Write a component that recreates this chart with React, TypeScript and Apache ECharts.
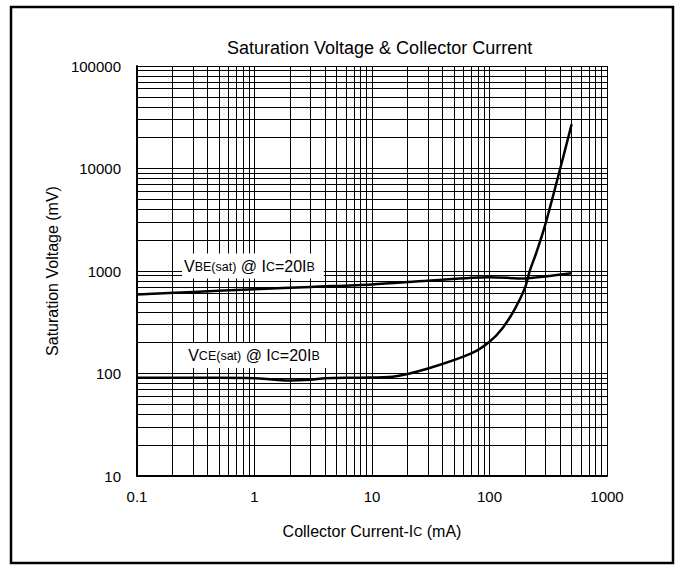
import React, { useEffect, useRef } from "react";
import * as echarts from "echarts";

const titleText = "Saturation Voltage & Collector Current";
const xTickLabels = ["0.1", "1", "10", "100", "1000"];
const yTickLabels = ["10", "100", "1000", "10000", "100000"];

const vbeCurrent = [0.1, 0.3, 1, 3, 10, 30, 100, 200, 300, 500];
const vbeVoltage = [590, 625, 663, 700, 740, 805, 870, 845, 885, 950];

const vceCurrent = [0.1, 0.5, 1, 1.5, 2, 3, 4, 8, 15, 30, 70, 100, 130, 165, 200, 220, 250, 300, 400, 500];
const vceVoltage = [91, 91, 90, 87, 85.5, 87, 90, 91, 93, 112, 157, 204, 280, 430, 680, 1000, 1500, 2900, 10000, 27000];

const xMinorGrid = [0.2, 0.3, 0.4, 0.5, 0.6, 0.7, 0.8, 0.9, 2, 3, 4, 5, 6, 7, 8, 9, 20, 30, 40, 50, 60, 70, 80, 90, 200, 300, 400, 500, 600, 700, 800, 900];
const yMinorGrid = [20, 30, 40, 50, 60, 70, 80, 90, 200, 300, 400, 500, 600, 700, 800, 900, 2000, 3000, 4000, 5000, 6000, 7000, 8000, 9000, 20000, 30000, 40000, 50000, 60000, 70000, 80000, 90000];

const vbeLabelAt = [0.97, 1120];
const vceLabelAt = [1.06, 150];

const FONT = "Liberation Sans";

export default function App() {
  const ref = useRef<HTMLDivElement>(null);
  useEffect(() => {
    document.body.style.margin = "0";
    const chart = echarts.init(ref.current!, null, { renderer: "svg" });
    const richLabel = {
      n: { fontSize: 16, fontFamily: FONT, color: "#000", verticalAlign: "bottom" },
      s: { fontSize: 12.5, fontFamily: FONT, color: "#000", verticalAlign: "bottom", padding: [0, 0, 1, 0] },
    };
    const mkLabel = (coord: number[], text: string) => ({
      coord,
      symbol: "rect",
      symbolSize: 1,
      itemStyle: { color: "rgba(0,0,0,0)" },
      label: {
        show: true,
        position: "inside",
        formatter: text,
        backgroundColor: "#fff",
        padding: [5, 9, 4, 2],
        rich: richLabel,
      },
    });
    chart.setOption({
      animation: false,
      title: {
        text: titleText,
        left: 222,
        top: 34,
        textStyle: { fontSize: 18, fontWeight: "normal", fontFamily: FONT, color: "#000" },
      },
      graphic: [
        {
          type: "rect",
          shape: { x: 11, y: 7, width: 662, height: 556 },
          style: { fill: "none", stroke: "#000", lineWidth: 2.5 },
          silent: true,
        },
      ],
      grid: { left: 137, top: 66, right: 78, bottom: 94 },
      xAxis: {
        type: "log",
        logBase: 10,
        min: 0.1,
        max: 1000,
        name: "{n|Collector Current-I}{s|C}{n| (mA)}",
        nameLocation: "middle",
        nameGap: 47,
        nameTextStyle: { rich: richLabel },
        axisLine: { show: true, lineStyle: { color: "#000", width: 2 } },
        axisTick: { show: false },
        axisLabel: {
          color: "#000",
          fontSize: 15,
          fontFamily: FONT,
          margin: 13,
          formatter: (v: number) => xTickLabels[Math.round(Math.log10(v)) + 1],
        },
        splitLine: { show: true, lineStyle: { color: "#000", width: 1 } },
      },
      yAxis: {
        type: "log",
        logBase: 10,
        min: 10,
        max: 100000,
        name: "Saturation Voltage (mV)",
        nameLocation: "middle",
        nameGap: 73,
        nameTextStyle: { fontSize: 16, fontFamily: FONT, color: "#000" },
        axisLine: { show: true, lineStyle: { color: "#000", width: 2 } },
        axisTick: { show: false },
        axisLabel: {
          color: "#000",
          fontSize: 15,
          fontFamily: FONT,
          margin: 16,
          formatter: (v: number) => yTickLabels[Math.round(Math.log10(v)) - 1],
        },
        splitLine: { show: true, lineStyle: { color: "#000", width: 1 } },
      },
      series: [
        {
          name: "grid",
          type: "line",
          data: [],
          silent: true,
          markLine: {
            silent: true,
            z: 1,
            symbol: "none",
            animation: false,
            label: { show: false },
            lineStyle: { color: "#000", width: 1, type: "solid" },
            data: [
              ...xMinorGrid.map((v) => ({ xAxis: v })),
              ...yMinorGrid.map((v) => ({ yAxis: v })),
            ],
          },
        },
        {
          name: "VBE",
          type: "line",
          z: 3,
          smooth: 0.3,
          showSymbol: false,
          lineStyle: { color: "#000", width: 2.5 },
          data: vbeCurrent.map((c, i) => [c, vbeVoltage[i]]),
        },
        {
          name: "VCE",
          type: "line",
          z: 3,
          smooth: 0.3,
          showSymbol: false,
          lineStyle: { color: "#000", width: 2.5 },
          data: vceCurrent.map((c, i) => [c, vceVoltage[i]]),
        },
        {
          name: "labels",
          type: "line",
          data: [],
          silent: true,
          markPoint: {
            z: 4,
            silent: true,
            animation: false,
            data: [
              mkLabel(vbeLabelAt, "{n|V}{s|BE(sat)}{n| @ I}{s|C}{n|=20I}{s|B}"),
              mkLabel(vceLabelAt, "{n|V}{s|CE(sat)}{n| @ I}{s|C}{n|=20I}{s|B}"),
            ],
          },
        },
      ],
    });
    return () => chart.dispose();
  }, []);
  return <div ref={ref} style={{ width: 685, height: 570 }} />;
}
